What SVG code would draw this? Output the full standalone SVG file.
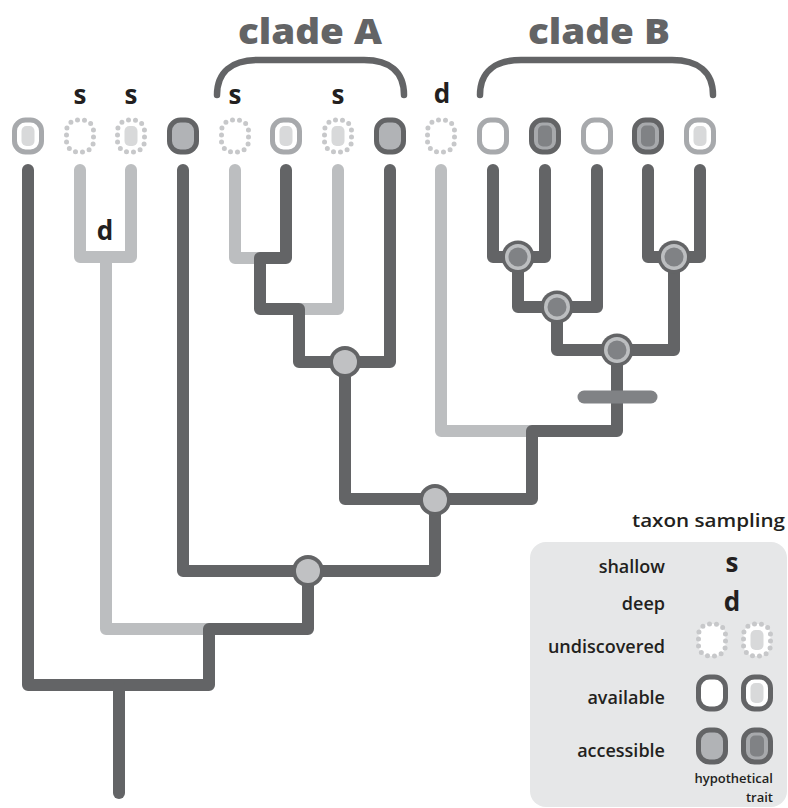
<svg xmlns="http://www.w3.org/2000/svg" xmlns:xlink="http://www.w3.org/1999/xlink" width="788" height="808" viewBox="0 0 788 808">
  <defs>
    <style>
      .br { fill: none; stroke-width: 12; stroke-linecap: round; stroke-linejoin: round; }
      .dk { stroke: #636466; }
      .lt { stroke: #bcbec0; }
      .lbl { font-family: "Open Sans", "Liberation Sans", sans-serif; font-weight: 700; fill: #231f20; }
      .tip { font-size: 26px; text-anchor: middle; }
      .clade { font-size: 35px; font-weight: 800; fill: #636466; text-anchor: middle; }
      .leg { font-family: "Open Sans", "Liberation Sans", sans-serif; font-weight: 600; fill: #231f20; font-size: 18px; text-anchor: end; }
      .brace { fill: none; stroke: #636466; stroke-width: 6.5; stroke-linecap: round; }
      .ring { stroke-width: 5; }
      .dots { fill: #ffffff; stroke: #c7c8ca; stroke-width: 5; stroke-linecap: round; stroke-dasharray: 0 7.05; }
    </style>
    <!-- tip icon shapes, centred on the origin -->
    <g id="undisc">
      <rect class="dots" x="-13.5" y="-16" width="27" height="32" rx="11"/>
    </g>
    <g id="undisc-trait">
      <rect class="dots" x="-13.5" y="-16" width="27" height="32" rx="11"/>
      <rect x="-6.5" y="-10" width="13" height="20" rx="5" fill="#d8d9da"/>
    </g>
    <g id="avail-pale">
      <rect class="ring" x="-13.5" y="-16" width="27" height="32" rx="11" fill="#ffffff" stroke="#a7a9ac"/>
    </g>
    <g id="avail-pale-trait">
      <rect class="ring" x="-13.5" y="-16" width="27" height="32" rx="11" fill="#ffffff" stroke="#a7a9ac"/>
      <rect x="-6.5" y="-10" width="13" height="20" rx="5" fill="#d8d9da"/>
    </g>
    <g id="avail">
      <rect class="ring" x="-13.5" y="-16" width="27" height="32" rx="11" fill="#ffffff" stroke="#636466"/>
    </g>
    <g id="avail-trait">
      <rect class="ring" x="-13.5" y="-16" width="27" height="32" rx="11" fill="#ffffff" stroke="#636466"/>
      <rect x="-6.5" y="-10" width="13" height="20" rx="5" fill="#d8d9da"/>
    </g>
    <g id="access">
      <rect class="ring" x="-13.5" y="-16" width="27" height="32" rx="11" fill="#b1b3b6" stroke="#636466"/>
    </g>
    <g id="access-trait">
      <rect class="ring" x="-13.5" y="-16" width="27" height="32" rx="11" fill="#a7a9ac" stroke="#636466"/>
      <rect x="-7" y="-10.5" width="14" height="21" rx="5" fill="#808285"/>
    </g>
    <!-- internal node markers -->
    <g id="node">
      <circle r="16" fill="#636466"/>
      <circle r="12" fill="#c0c1c3"/>
    </g>
    <g id="node-trait">
      <circle r="16.5" fill="#636466"/>
      <circle r="13" fill="#bcbec0"/>
      <circle r="9.5" fill="#808285"/>
    </g>
  </defs>

  <rect width="788" height="808" fill="#ffffff"/>

  <!-- clade labels and braces -->
  <g id="cladeA">
    <text class="lbl clade" x="310" y="44" textLength="144" lengthAdjust="spacingAndGlyphs">clade A</text>
    <path class="brace" d="M217,95 C217,72 232,60 258,60 H364 C390,60 404,72 404,95"/>
  </g>
  <g id="cladeB">
    <text class="lbl clade" x="599" y="44" textLength="142" lengthAdjust="spacingAndGlyphs">clade B</text>
    <path class="brace" d="M480,95 C480,72 495,60 521,60 H672 C698,60 713,72 713,95"/>
  </g>

  <!-- branches -->
  <g id="connectors">
    <path class="br lt" d="M80,170 V257 H131 V170"/>
    <path class="br lt" d="M106,257 V629 H209"/>
    <path class="br lt" d="M235,170 V258 H262"/>
    <path class="br lt" d="M338,170 V309 H299"/>
    <path class="br lt" d="M441,170 V431 H532"/>

    <path class="br dk" d="M28,170 V685 H209 V629 H308 V571"/>
    <path class="br dk" d="M119,685 V793"/>
    <path class="br dk" d="M183,170 V571 H435 V500"/>
    <path class="br dk" d="M286,170 V258 H260 V309 H299 V362 H390 V170"/>
    <path class="br dk" d="M345,362 V499 H532 V431 H617 V350"/>
    <path class="br dk" d="M493,170 V257 H545 V170"/>
    <path class="br dk" d="M518,257 V307 H597 V170"/>
    <path class="br dk" d="M557,307 V350 H674 V257"/>
    <path class="br dk" d="M648,170 V257 H700 V170"/>

    <line x1="584" y1="397" x2="651" y2="397" stroke="#808285" stroke-width="13" stroke-linecap="round"/>
  </g>

  <!-- internal nodes -->
  <g id="n-cladeA"><use xlink:href="#node" x="345" y="362"/></g>
  <g id="n-AB"><use xlink:href="#node" x="435" y="500"/></g>
  <g id="n-outer"><use xlink:href="#node" x="308" y="571"/></g>
  <g id="n-B1"><use xlink:href="#node-trait" x="518" y="257"/></g>
  <g id="n-B2"><use xlink:href="#node-trait" x="674" y="257"/></g>
  <g id="n-B3"><use xlink:href="#node-trait" x="557" y="307"/></g>
  <g id="n-Broot"><use xlink:href="#node-trait" x="617" y="350"/></g>

  <!-- tips -->
  <g id="t1"><use xlink:href="#avail-pale-trait" x="28" y="136"/></g>
  <g id="t2"><use xlink:href="#undisc" x="80" y="136"/><text class="lbl tip" x="80" y="104">s</text></g>
  <g id="t3"><use xlink:href="#undisc-trait" x="131" y="136"/><text class="lbl tip" x="131" y="104">s</text></g>
  <g id="t4"><use xlink:href="#access" x="183" y="136"/></g>
  <g id="t5"><use xlink:href="#undisc" x="235" y="136"/><text class="lbl tip" x="235" y="104">s</text></g>
  <g id="t6"><use xlink:href="#avail-pale-trait" x="286" y="136"/></g>
  <g id="t7"><use xlink:href="#undisc-trait" x="338" y="136"/><text class="lbl tip" x="338" y="104">s</text></g>
  <g id="t8"><use xlink:href="#access" x="390" y="136"/></g>
  <g id="t9"><use xlink:href="#undisc" x="441" y="136"/><text class="lbl tip" x="442" y="103">d</text></g>
  <g id="t10"><use xlink:href="#avail-pale" x="493" y="136"/></g>
  <g id="t11"><use xlink:href="#access-trait" x="545" y="136"/></g>
  <g id="t12"><use xlink:href="#avail-pale" x="597" y="136"/></g>
  <g id="t13"><use xlink:href="#access-trait" x="648" y="136"/></g>
  <g id="t14"><use xlink:href="#avail-pale-trait" x="700" y="136"/></g>

  <!-- deep-sampling mark on the left pair -->
  <text class="lbl tip" x="105" y="240">d</text>

  <!-- legend -->
  <g id="legend">
    <text class="leg" x="785" y="527" font-size="19" textLength="153" lengthAdjust="spacingAndGlyphs">taxon sampling</text>
    <rect x="530" y="542" width="257" height="265" rx="16" fill="#e6e7e8"/>
    <text class="leg" x="665" y="573">shallow</text>
    <text class="lbl tip" x="732" y="572">s</text>
    <text class="leg" x="665" y="610">deep</text>
    <text class="lbl tip" x="732" y="611">d</text>
    <text class="leg" x="665" y="653">undiscovered</text>
    <use xlink:href="#undisc" x="712" y="640"/>
    <use xlink:href="#undisc-trait" x="757" y="640"/>
    <text class="leg" x="665" y="704">available</text>
    <use xlink:href="#avail" x="712" y="693"/>
    <use xlink:href="#avail-trait" x="757" y="693"/>
    <text class="leg" x="665" y="757">accessible</text>
    <use xlink:href="#access" x="712" y="746"/>
    <use xlink:href="#access-trait" x="757" y="746"/>
    <text class="leg" x="773" y="783" style="font-size:13px">hypothetical</text>
    <text class="leg" x="773" y="802" style="font-size:13px">trait</text>
  </g>
</svg>
